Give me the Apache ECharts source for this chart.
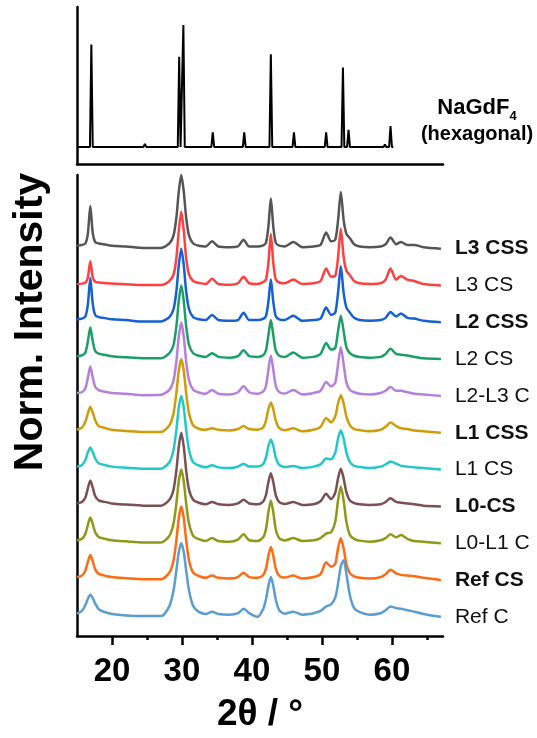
<!DOCTYPE html>
<html>
<head>
<meta charset="utf-8">
<script src="https://cdn.jsdelivr.net/npm/echarts@6/dist/echarts.min.js"></script>
<style>
html,body{margin:0;padding:0;background:#fff}
#chart{width:537px;height:738px}
</style>
</head>
<body>
<div id="chart"></div>
<script>
// reference stick pattern NaGdF4 (hexagonal)
const refPos = [17.05, 24.7, 29.6, 30.2, 34.4, 38.9, 42.7, 46.0, 50.6, 53.0, 53.8, 59.0, 59.8]
const refInt = [0.84, 0.025, 0.74, 1.0, 0.12, 0.12, 0.76, 0.12, 0.12, 0.65, 0.14, 0.02, 0.17]

// 2theta sampling points shared by the measured patterns
const twoTheta = [15.0, 15.7, 16.2, 16.55, 16.9, 17.25, 17.6, 18.1, 18.8, 20.0,
  22.0, 24.5, 27.0,
  28.2, 28.8, 29.2, 29.55, 29.9, 30.25, 30.6, 31.0, 31.6, 32.4,
  33.4, 34.3, 35.2, 36.8, 38.0, 38.8, 39.6, 40.8,
  41.6, 42.0, 42.35, 42.7, 43.05, 43.4, 43.9, 44.7,
  45.9, 47.2, 48.8, 49.8, 50.6, 51.3, 51.9, 52.3, 52.7, 53.1, 53.5, 54.0, 54.6, 55.4,
  56.8, 58.4, 59.1, 59.8, 60.6, 61.3, 62.2, 63.2, 64.5, 67.0]

// normalised intensities (strongest reflection = 1)
const l3css = [0.04, 0.05, 0.07, 0.20, 0.58, 0.21, 0.09, 0.07, 0.06, 0.04, 0.03, 0.01, 0.01,
  0.07, 0.18, 0.42, 0.78, 1.00, 0.78, 0.42, 0.18, 0.07, 0.04,
  0.03, 0.10, 0.03, 0.02, 0.03, 0.12, 0.03, 0.03,
  0.045, 0.08, 0.30, 0.68, 0.30, 0.08, 0.04, 0.03,
  0.09, 0.02, 0.03, 0.05, 0.22, 0.10, 0.12, 0.38, 0.77, 0.39, 0.20, 0.14, 0.06, 0.03,
  0.02, 0.03, 0.06, 0.15, 0.06, 0.09, 0.05, 0.05, 0.02, 0.00]
const l3cs = [0.02, 0.025, 0.04, 0.105, 0.33, 0.11, 0.05, 0.04, 0.035, 0.025, 0.015, 0.005, 0.005,
  0.06, 0.15, 0.37, 0.75, 1.00, 0.75, 0.37, 0.15, 0.06, 0.035,
  0.02, 0.09, 0.02, 0.01, 0.03, 0.12, 0.03, 0.02,
  0.045, 0.083, 0.305, 0.70, 0.305, 0.083, 0.04, 0.03,
  0.08, 0.02, 0.03, 0.06, 0.23, 0.12, 0.13, 0.38, 0.77, 0.39, 0.20, 0.14, 0.06, 0.03,
  0.02, 0.03, 0.08, 0.23, 0.08, 0.13, 0.08, 0.06, 0.02, 0.00]
const l2css = [0.04, 0.05, 0.08, 0.24, 0.60, 0.25, 0.10, 0.07, 0.06, 0.04, 0.03, 0.01, 0.01,
  0.07, 0.18, 0.42, 0.78, 1.00, 0.78, 0.42, 0.18, 0.07, 0.04,
  0.03, 0.10, 0.03, 0.02, 0.03, 0.13, 0.03, 0.03,
  0.045, 0.083, 0.28, 0.58, 0.28, 0.083, 0.04, 0.03,
  0.09, 0.02, 0.03, 0.05, 0.20, 0.10, 0.13, 0.40, 0.76, 0.40, 0.20, 0.13, 0.06, 0.03,
  0.02, 0.03, 0.06, 0.14, 0.08, 0.12, 0.06, 0.05, 0.02, 0.00]
const l2cs = [0.04, 0.05, 0.09, 0.24, 0.43, 0.245, 0.11, 0.075, 0.06, 0.04, 0.025, 0.01, 0.01,
  0.08, 0.195, 0.445, 0.795, 1.00, 0.795, 0.445, 0.195, 0.08, 0.045,
  0.03, 0.08, 0.03, 0.02, 0.04, 0.12, 0.04, 0.03,
  0.052, 0.118, 0.325, 0.53, 0.325, 0.118, 0.046, 0.03,
  0.09, 0.02, 0.03, 0.07, 0.22, 0.13, 0.15, 0.38, 0.59, 0.38, 0.16, 0.08, 0.045, 0.03,
  0.02, 0.03, 0.07, 0.14, 0.07, 0.06, 0.05, 0.03, 0.01, 0.00]
const l23c = [0.04, 0.05, 0.105, 0.245, 0.40, 0.25, 0.125, 0.078, 0.06, 0.04, 0.03, 0.01, 0.015,
  0.083, 0.215, 0.47, 0.81, 1.00, 0.81, 0.47, 0.215, 0.083, 0.047,
  0.03, 0.08, 0.03, 0.02, 0.05, 0.13, 0.05, 0.03,
  0.058, 0.135, 0.355, 0.55, 0.355, 0.135, 0.052, 0.032,
  0.08, 0.02, 0.04, 0.07, 0.19, 0.13, 0.18, 0.43, 0.66, 0.43, 0.18, 0.08, 0.05, 0.03,
  0.02, 0.04, 0.07, 0.12, 0.07, 0.07, 0.05, 0.03, 0.02, 0.00]
const l1css = [0.04, 0.07, 0.15, 0.265, 0.35, 0.275, 0.17, 0.09, 0.07, 0.04, 0.025, 0.01, 0.01,
  0.10, 0.27, 0.54, 0.845, 1.00, 0.845, 0.54, 0.27, 0.10, 0.055,
  0.04, 0.06, 0.04, 0.03, 0.05, 0.09, 0.05, 0.04,
  0.074, 0.165, 0.32, 0.41, 0.32, 0.165, 0.063, 0.035,
  0.06, 0.02, 0.04, 0.08, 0.20, 0.14, 0.22, 0.40, 0.51, 0.40, 0.22, 0.10, 0.05, 0.035,
  0.02, 0.04, 0.08, 0.14, 0.09, 0.06, 0.05, 0.03, 0.02, 0.00]
const l1cs = [0.04, 0.06, 0.13, 0.23, 0.30, 0.24, 0.15, 0.087, 0.065, 0.04, 0.025, 0.01, 0.01,
  0.10, 0.27, 0.54, 0.845, 1.00, 0.845, 0.54, 0.27, 0.10, 0.055,
  0.03, 0.06, 0.03, 0.02, 0.04, 0.08, 0.04, 0.04,
  0.074, 0.165, 0.32, 0.41, 0.32, 0.165, 0.063, 0.035,
  0.05, 0.02, 0.04, 0.07, 0.15, 0.14, 0.23, 0.42, 0.53, 0.42, 0.23, 0.10, 0.05, 0.035,
  0.02, 0.04, 0.07, 0.11, 0.08, 0.05, 0.04, 0.03, 0.02, 0.00]
const l0cs = [0.04, 0.06, 0.12, 0.245, 0.35, 0.255, 0.14, 0.082, 0.064, 0.04, 0.025, 0.01, 0.01,
  0.09, 0.23, 0.49, 0.815, 1.00, 0.815, 0.49, 0.23, 0.09, 0.05,
  0.03, 0.06, 0.03, 0.02, 0.04, 0.09, 0.04, 0.03,
  0.066, 0.154, 0.33, 0.45, 0.33, 0.154, 0.057, 0.033,
  0.06, 0.02, 0.03, 0.07, 0.17, 0.10, 0.185, 0.38, 0.51, 0.38, 0.19, 0.08, 0.045, 0.03,
  0.02, 0.03, 0.06, 0.11, 0.06, 0.05, 0.04, 0.03, 0.01, 0.00]
const l01c = [0.04, 0.06, 0.13, 0.25, 0.35, 0.26, 0.15, 0.085, 0.065, 0.04, 0.025, 0.01, 0.01,
  0.10, 0.27, 0.54, 0.845, 1.00, 0.845, 0.54, 0.27, 0.10, 0.055,
  0.03, 0.07, 0.03, 0.02, 0.05, 0.12, 0.04, 0.03,
  0.08, 0.19, 0.42, 0.58, 0.42, 0.19, 0.068, 0.037,
  0.07, 0.03, 0.04, 0.07, 0.13, 0.15, 0.29, 0.58, 0.77, 0.58, 0.29, 0.11, 0.06, 0.035,
  0.02, 0.04, 0.07, 0.12, 0.08, 0.11, 0.06, 0.03, 0.02, 0.00]
const refcs = [0.04, 0.06, 0.13, 0.245, 0.34, 0.255, 0.145, 0.084, 0.065, 0.04, 0.025, 0.01, 0.01,
  0.10, 0.27, 0.54, 0.845, 1.00, 0.845, 0.54, 0.27, 0.10, 0.055,
  0.03, 0.06, 0.03, 0.02, 0.04, 0.10, 0.04, 0.03,
  0.066, 0.154, 0.33, 0.45, 0.33, 0.154, 0.057, 0.033,
  0.06, 0.02, 0.04, 0.08, 0.24, 0.18, 0.22, 0.43, 0.57, 0.43, 0.21, 0.09, 0.05, 0.03,
  0.02, 0.04, 0.08, 0.14, 0.09, 0.07, 0.06, 0.05, 0.03, 0.00]
const refc = [0.045, 0.08, 0.16, 0.245, 0.30, 0.255, 0.18, 0.104, 0.07, 0.04, 0.02, 0.01, 0.01,
  0.146, 0.36, 0.63, 0.885, 1.00, 0.885, 0.63, 0.36, 0.146, 0.067,
  0.04, 0.07, 0.04, 0.03, 0.05, 0.11, 0.05, 0.00,
  0.105, 0.235, 0.42, 0.54, 0.42, 0.235, 0.09, 0.043,
  0.07, 0.03, 0.05, 0.08, 0.14, 0.17, 0.26, 0.45, 0.69, 0.77, 0.58, 0.29, 0.12, 0.065,
  0.03, 0.05, 0.09, 0.14, 0.12, 0.11, 0.09, 0.07, 0.04, 0.00]

const sampleNames = ['L3 CSS', 'L3 CS', 'L2 CSS', 'L2 CS', 'L2-L3 C', 'L1 CSS',
  'L1 CS', 'L0-CS', 'L0-L1 C', 'Ref CS', 'Ref C']
const sampleData = [l3css, l3cs, l2css, l2cs, l23c, l1css, l1cs, l0cs, l01c, refcs, refc]
const sampleOffsets = [5, 4.5, 4, 3.5, 3, 2.5, 2, 1.5, 1, 0.5, 0]
const boldNames = ['L3 CSS', 'L2 CSS', 'L1 CSS', 'L0-CS', 'Ref CS']

const xTicks = [20, 30, 40, 50, 60]
const xMinorTicks = [25, 35, 45, 55, 65]

const colors = ['#555555', '#ff4040', '#1560d4', '#1aa066', '#b67fdc', '#cf9c0a',
  '#22c8c8', '#7c4f52', '#8c9a16', '#ff6a12', '#5a9dd2']
const font = 'Liberation Sans, Arial, Helvetica, sans-serif'

let myChart = echarts.init(document.getElementById('chart'))

let refLine = [[15, 0]]
refPos.forEach((p, i) => {
	refLine.push([p - 0.2, 0], [p, refInt[i]], [p + 0.2, 0])
})
refLine.push([60.2, 0])

let series = [{
	type: 'line', xAxisIndex: 0, yAxisIndex: 0,
	data: refLine, symbol: 'none', silent: true,
	lineStyle: {color: '#000', width: 2}
}]
sampleNames.forEach((name, i) => {
	series.push({
		type: 'line', name: name, xAxisIndex: 1, yAxisIndex: 1,
		data: twoTheta.map((t, k) => [t, sampleData[i][k] + sampleOffsets[i]]),
		symbol: 'none', smooth: 0.25, clip: false,
		lineStyle: {color: colors[i], width: 2.5},
		endLabel: {
			show: true, formatter: name, distance: 14,
			color: '#111', fontSize: 21, fontFamily: font,
			fontWeight: boldNames.includes(name) ? 'bold' : 'normal'
		}
	})
})

let axisLine = {show: true, onZero: false, lineStyle: {color: '#000', width: 2.5}}
let option = {
	animation: false,
	grid: [
		{left: 77, right: 94, top: 7, height: 157},
		{left: 77, right: 94, top: 175, bottom: 99}
	],
	xAxis: [
		{gridIndex: 0, type: 'value', min: 15, max: 67.3, axisLine: axisLine,
			axisTick: {show: false}, axisLabel: {show: false}, splitLine: {show: false}},
		{gridIndex: 1, type: 'value', min: 15, max: 67.3, position: 'bottom', axisLine: axisLine,
			axisTick: {show: true, customValues: xTicks, length: 9, lineStyle: {color: '#000', width: 2.5}},
			axisLabel: {customValues: xTicks, fontSize: 33, fontWeight: 'bold', color: '#000', margin: 19, fontFamily: font},
			splitLine: {show: false},
			name: '2\u03b8 / \u00b0', nameLocation: 'middle', nameGap: 60,
			nameTextStyle: {fontSize: 37, fontWeight: 'bold', color: '#000', fontFamily: font}},
		{gridIndex: 1, type: 'value', min: 15, max: 67.3, position: 'bottom', axisLine: {show: false, onZero: false},
			axisTick: {show: true, customValues: xMinorTicks, length: 4, lineStyle: {color: '#000', width: 2.5}},
			axisLabel: {show: false}, splitLine: {show: false}}
	],
	yAxis: [
		{gridIndex: 0, type: 'value', min: -0.14, max: 1.147, axisLine: axisLine,
			axisTick: {show: false}, axisLabel: {show: false}, splitLine: {show: false}},
		{gridIndex: 1, type: 'value', min: -0.26, max: 6.0, axisLine: axisLine,
			axisTick: {show: false}, axisLabel: {show: false}, splitLine: {show: false}}
	],
	graphic: [
		{type: 'text', x: 31, y: 322, rotation: Math.PI / 2,
			style: {text: 'Norm. Intensity', fontSize: 41, fontWeight: 'bold', fontFamily: font,
				fill: '#000', align: 'center', verticalAlign: 'middle'}},
		{type: 'text', x: 477, y: 108,
			style: {text: '{a|NaGdF}{b|4}', align: 'center', verticalAlign: 'middle', fill: '#000',
				rich: {
					a: {fontSize: 22, fontWeight: 'bold', fontFamily: font, lineHeight: 22},
					b: {fontSize: 13, fontWeight: 'bold', fontFamily: font, lineHeight: 13, padding: [16, 0, 0, 0]}
				}}},
		{type: 'text', x: 477, y: 134,
			style: {text: '(hexagonal)', fontSize: 20, fontWeight: 'bold', fontFamily: font,
				fill: '#000', align: 'center', verticalAlign: 'middle'}}
	],
	series: series
}
myChart.setOption(option)
window.onresize = function () {
	myChart.resize()
}
</script>
</body>
</html>
